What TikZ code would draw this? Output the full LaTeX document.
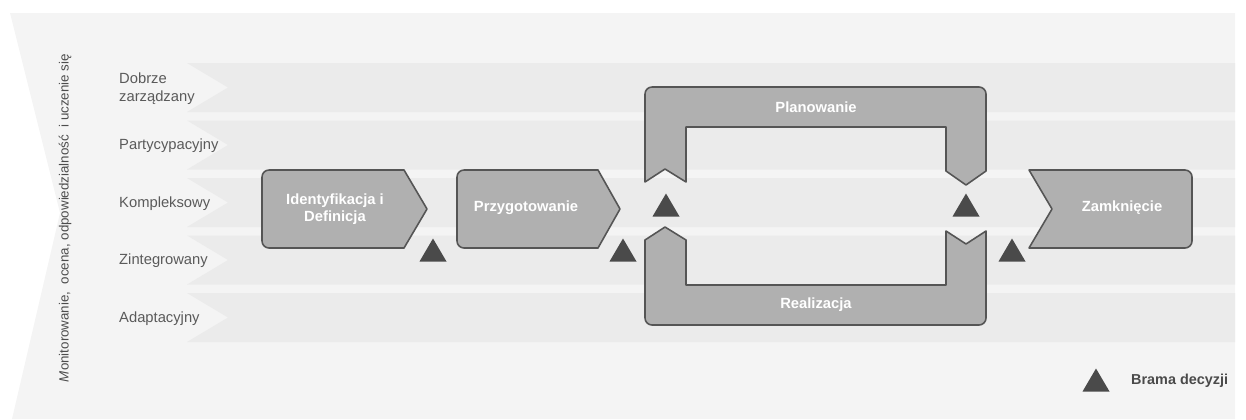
\documentclass[tikz,border=0pt]{standalone}
\usepackage{fontspec}
\setmainfont{Liberation Sans}
\usepackage{tikz}
\usepackage{xcolor}
\usetikzlibrary{positioning}
\definecolor{PanelGray}{HTML}{F4F4F4}
\definecolor{BandGray}{HTML}{EBEBEB}
\definecolor{BoxGray}{HTML}{B0B0B0}
\definecolor{EdgeGray}{HTML}{555555}
\definecolor{GateGray}{HTML}{4A4A4A}
\definecolor{LabelGray}{HTML}{5A5A5A}

\begin{document}
\begin{tikzpicture}[x=0.02cm, y=-0.02cm,
    phase/.style={fill=BoxGray, draw=EdgeGray, line width=0.9pt, line join=round},
    phasetext/.style={text=white, font=\fontsize{8.4}{10}\selectfont\bfseries, align=center},
    leveltext/.style={text=LabelGray, font=\fontsize{8.4}{10}\selectfont, align=left, anchor=west}]
    \useasboundingbox (0,0) rectangle (1246,419);

    % Outer panel with notch on the left
    \fill[PanelGray] (10,13) -- (1235,13) -- (1235,419) -- (12,419) -- (60,213) -- cycle;

    % Level bands: top edge / label
    \foreach \t/\name/\lab in {63/lev1/{Dobrze\\zarządzany}, 120.5/lev2/Partycypacyjny,
                                178/lev3/Kompleksowy, 235.5/lev4/Zintegrowany, 293/lev5/Adaptacyjny} {
        \fill[BandGray] (187,\t) -- (1235,\t) -- (1235,\t+49) -- (187,\t+49) -- (228,\t+24.5) -- cycle;
        \node[leveltext] (\name) at (113,\t+25.5) {\lab};
    }

    % Vertical side label
    \node[text=LabelGray!85!black, font=\fontsize{7.6}{9}\selectfont, rotate=90] (monit) at (65,218)
        {\textit{M}onitorowanie,\ \ ocena, odpowiedzialność\ \ i uczenie się};

    % Identyfikacja i Definicja
    \draw[phase] (333,170) [rounded corners=4pt] -- (262,170) -- (262,248) [sharp corners] -- (404,248) -- (427,209) -- (404,170) -- cycle;
    \node[phasetext] (ident) at (335,209) {Identyfikacja i\\Definicja};

    % Przygotowanie
    \draw[phase] (528,170) [rounded corners=4pt] -- (457,170) -- (457,248) [sharp corners] -- (598,248) -- (620,209) -- (598,170) -- cycle;
    \node[phasetext] (przyg) at (526,208) {Przygotowanie};

    % Planowanie (upper loop)
    \draw[phase] (665,169) -- (645,182) [rounded corners=4pt] -- (645,87) -- (986,87) [sharp corners] -- (986,171) -- (966,185) -- (946,171) -- (946,127) -- (686,127) -- (686,182) -- cycle;
    \node[phasetext] (plan) at (816,107) {Planowanie};

    % Realizacja (lower loop)
    \draw[phase] (665,227) -- (686,240) -- (686,285) -- (946,285) -- (946,231) -- (966,244) -- (986,231) [rounded corners=4pt] -- (986,325) -- (645,325) [sharp corners] -- (645,240) -- cycle;
    \node[phasetext] (real) at (816,305) {Realizacja};

    % Zamkniecie
    \draw[phase] (1029,170) -- (1052,209) -- (1029,248) [rounded corners=4pt] -- (1192,248) -- (1192,170) [sharp corners] -- cycle;
    \node[phasetext] (zamk) at (1122,208) {Zamknięcie};

    % Decision gates
    \foreach \gx/\gy in {433/250, 623/250, 666/205, 966/205, 1012/250, 1096/380} {
        \fill[GateGray] (\gx-13.5,\gy+11.5) -- (\gx+13.5,\gy+11.5) -- (\gx,\gy-11.5) -- cycle;
    }
    \node[text=GateGray, font=\fontsize{8.2}{10}\selectfont\bfseries, anchor=west] (legend) at (1125,381) {Brama decyzji};

\end{tikzpicture}
\end{document}
